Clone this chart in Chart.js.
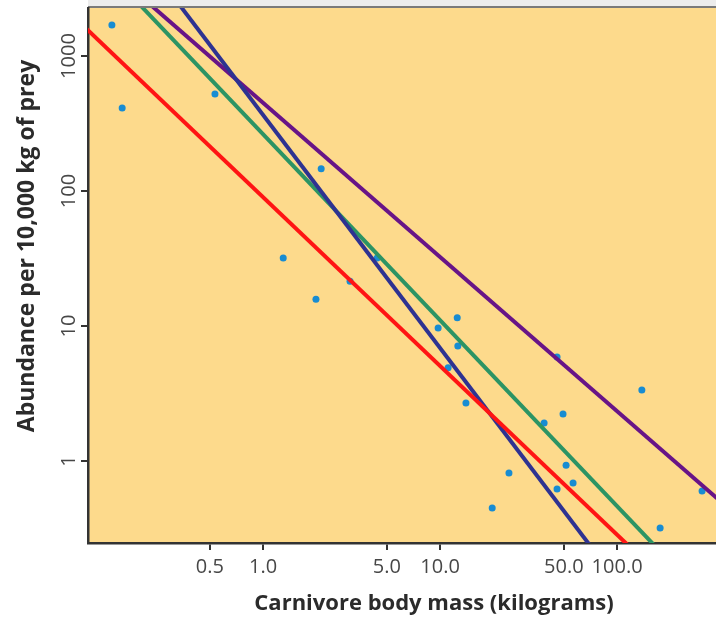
<!DOCTYPE html>
<html>
<head>
<meta charset="utf-8">
<script src="https://cdn.jsdelivr.net/npm/chart.js@4/dist/chart.umd.min.js"></script>
<style>
    html, body { margin: 0; padding: 0; background: #fff; }
    canvas { display: block; }
</style>
</head>
<body>
<canvas id="chart_canvas" width="716" height="618"></canvas>
<script>
// body mass (kg) vs abundance per 10,000 kg of prey, log-log
const massKg = [0.14, 0.16, 0.535, 2.13, 1.30, 1.99, 3.10, 4.41, 9.75, 12.5, 12.6, 11.1, 14.0,
    45.8, 138, 49.5, 38.7, 51.5, 24.5, 56.4, 45.8, 19.7, 175, 302];
const abundance = [1698, 412, 523, 146, 31.9, 15.8, 21.5, 31.9, 9.67, 11.5, 7.1, 4.9, 2.69,
    5.9, 3.36, 2.23, 1.91, 0.93, 0.815, 0.687, 0.62, 0.449, 0.319, 0.6];

// fitted lines, two end points each
const redX = [0.1, 160];
const redY = [1600, 0.158];
const greenX = [0.2, 250];
const greenY = [2420, 0.131];
const purpleX = [0.2, 400];
const purpleY = [2830, 0.48];
const navyX = [0.25, 100];
const navyY = [4010, 0.129];

const xTicks = [0.5, 1, 5, 10, 50, 100];
const xTickLabels = ['0.5', '1.0', '5.0', '10.0', '50.0', '100.0'];
const yTicks = [1, 10, 100, 1000];
const yTickLabels = ['1', '10', '100', '1000'];

const xTitle = 'Carnivore body mass (kilograms)';
const yTitle = 'Abundance per 10,000 kg of prey';

function pairs(xs, ys) {
    return xs.map((x, i) => ({ x: x, y: ys[i] }));
}

function fitLine(xs, ys, color) {
    return {
        type: 'line',
        data: pairs(xs, ys),
        borderColor: color,
        borderWidth: 4,
        pointRadius: 0,
        fill: false,
        tension: 0
    };
}

// yellow panel, top rule and the axis titles
const panel = {
    id: 'panel',
    beforeDraw(chart) {
        const { ctx, chartArea: { left, right, top, bottom } } = chart;
        ctx.save();
        ctx.fillStyle = 'rgb(253, 218, 140)';
        ctx.fillRect(left, top, right - left, bottom - top);
        ctx.fillStyle = '#ececec';
        ctx.fillRect(left, 0, right - left, top - 2);
        ctx.strokeStyle = '#7a7a7a';
        ctx.lineWidth = 2;
        ctx.beginPath();
        ctx.moveTo(left, top - 1);
        ctx.lineTo(right, top - 1);
        ctx.stroke();
        ctx.restore();
    },
    afterDraw(chart) {
        const { ctx } = chart;
        ctx.save();
        ctx.fillStyle = '#2b2b2b';
        ctx.textAlign = 'center';
        ctx.textBaseline = 'middle';
        ctx.font = 'bold 22px "Open Sans"';
        ctx.fillText(xTitle, 434, 604);
        ctx.font = 'bold 23px "Open Sans"';
        ctx.translate(27, 246);
        ctx.rotate(-Math.PI / 2);
        ctx.fillText(yTitle, 0, 0);
        ctx.restore();
    }
};

const tickFont = { family: '"Open Sans"', size: 20 };

const conf = {
    type: 'scatter',
    data: {
        datasets: [
            fitLine(redX, redY, 'rgb(255, 20, 20)'),
            fitLine(navyX, navyY, 'rgb(46, 50, 145)'),
            fitLine(greenX, greenY, 'rgb(44, 148, 100)'),
            fitLine(purpleX, purpleY, 'rgb(104, 20, 135)'),
            {
                type: 'scatter',
                data: pairs(massKg, abundance),
                backgroundColor: 'rgb(24, 140, 210)',
                borderWidth: 0,
                pointRadius: 3.5
            }
        ]
    },
    options: {
        responsive: false,
        animation: false,
        layout: { autoPadding: false, padding: { top: 8, right: 0, left: 0, bottom: 0 } },
        plugins: {
            legend: { display: false },
            tooltip: { enabled: false }
        },
        scales: {
            x: {
                type: 'logarithmic',
                min: 0.1026,
                max: 362,
                afterBuildTicks(scale) { scale.ticks = xTicks.map(v => ({ value: v })); },
                afterFit(scale) { scale.height = 75; },
                grid: { drawOnChartArea: false, tickLength: 7, color: '#333', lineWidth: 2 },
                border: { color: '#333', width: 2.5 },
                ticks: {
                    font: tickFont,
                    color: '#474747',
                    padding: 5,
                    maxRotation: 0,
                    autoSkip: false,
                    callback: (v, i) => xTickLabels[i]
                }
            },
            y: {
                type: 'logarithmic',
                min: 0.247,
                max: 2268,
                afterBuildTicks(scale) { scale.ticks = yTicks.map(v => ({ value: v })); },
                afterFit(scale) { scale.width = 88; },
                grid: { drawOnChartArea: false, tickLength: 7, color: '#333', lineWidth: 2 },
                border: { color: '#333', width: 2.5 },
                ticks: {
                    font: tickFont,
                    color: '#474747',
                    padding: -11,
                    minRotation: 90,
                    maxRotation: 90,
                    crossAlign: 'center',
                    autoSkip: false,
                    callback: (v, i) => yTickLabels[i]
                }
            }
        }
    },
    plugins: [panel]
};

const canva = document.getElementById('chart_canvas');
const myChart = new Chart(canva, conf);
</script>
</body>
</html>
